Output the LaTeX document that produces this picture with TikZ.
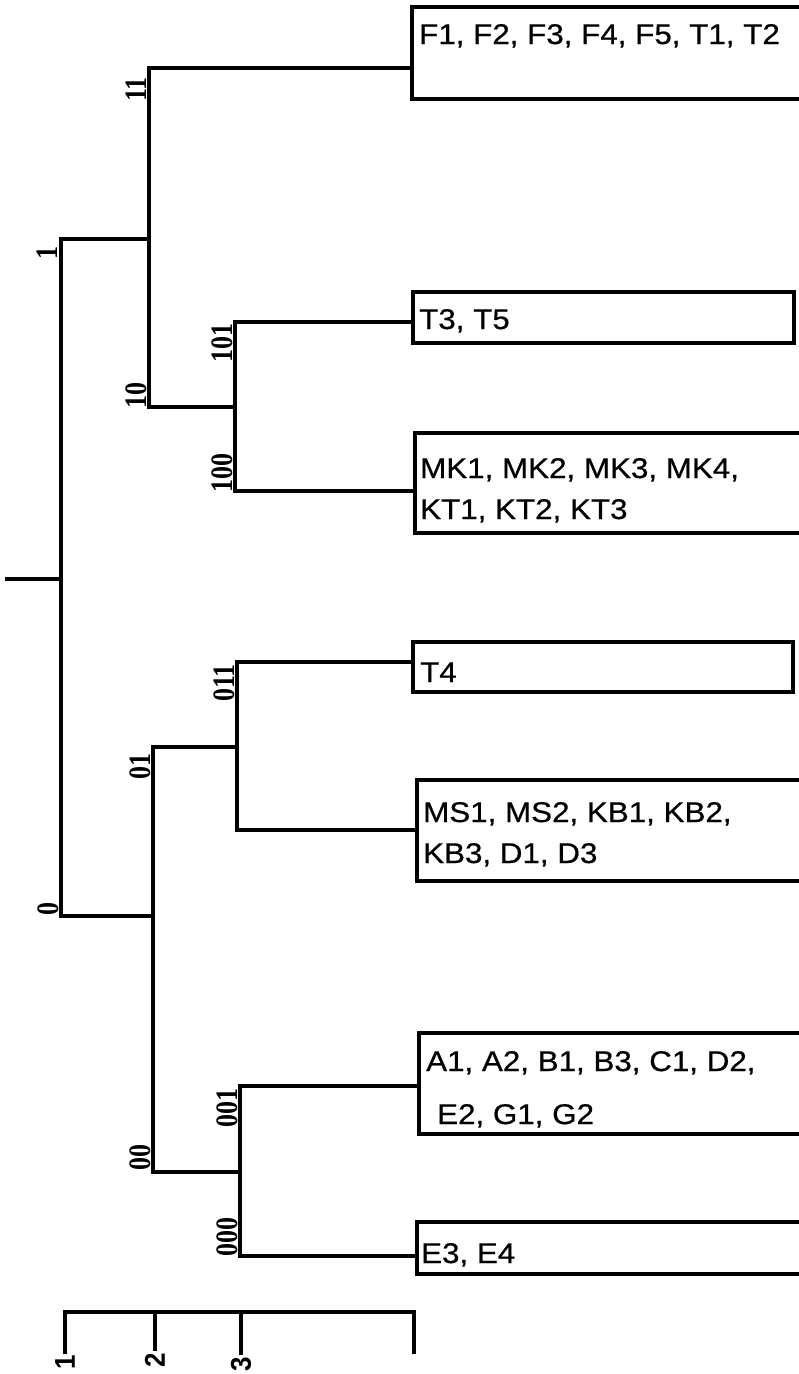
\documentclass[tikz,border=0pt]{standalone}
\usepackage{fontspec}
\usepackage{graphicx}
\setmainfont{Liberation Sans}
\newfontfamily\boxfont[FakeStretch=1.1,FakeBold=0.6]{Liberation Sans}
\newfontfamily\codefont{Liberation Serif}
\newcommand{\tallcode}[1]{\scalebox{1}[1.2]{#1}}
\tikzset{
  ln/.style={line width=3.2pt, line cap=rect},
  conn/.style={line width=3.2pt, line cap=rect, shorten >=4pt},
  grp/.style={draw, line width=3.2pt, rectangle, anchor=north west, inner sep=0pt, outer sep=0pt},
  grptxt/.style={anchor=base west, inner sep=0pt, font=\boxfont\fontsize{28.5}{30}\selectfont},
  code/.style={rotate=90, inner sep=0pt, font=\codefont\bfseries\fontsize{26}{30}\selectfont},
  scl/.style={rotate=90, inner sep=0pt, anchor=east, font=\bfseries\fontsize{26}{30}\selectfont},
}
\begin{document}
\begin{tikzpicture}[x=1pt,y=-1pt]
\useasboundingbox (0,0) rectangle (799,1374);
\clip (0,0) rectangle (799,1374);

% group boxes
\node[grp, minimum width=400pt, minimum height=92pt]  (b1) at (412,7) {};
\node[grp, minimum width=381pt, minimum height=51pt]  (b2) at (413,292) {};
\node[grp, minimum width=400pt, minimum height=100pt] (b3) at (415,433) {};
\node[grp, minimum width=380pt, minimum height=50pt]  (b4) at (413,642) {};
\node[grp, minimum width=400pt, minimum height=101pt] (b5) at (417,780) {};
\node[grp, minimum width=400pt, minimum height=101pt] (b6) at (419,1033) {};
\node[grp, minimum width=400pt, minimum height=52pt]  (b7) at (417,1222) {};

% box texts
\node[grptxt] (t1)  at (419,44)   {F1, F2, F3, F4, F5, T1, T2};
\node[grptxt] (t2)  at (419,329)  {T3, T5};
\node[grptxt] (t3a) at (420,478)  {MK1, MK2, MK3, MK4,};
\node[grptxt] (t3b) at (420,519)  {KT1, KT2, KT3};
\node[grptxt] (t4)  at (420,682)  {T4};
\node[grptxt] (t5a) at (423,822)  {MS1, MS2, KB1, KB2,};
\node[grptxt] (t5b) at (423,863)  {KB3, D1, D3};
\node[grptxt] (t6a) at (426,1071) {A1, A2, B1, B3, C1, D2,};
\node[grptxt] (t6b) at (437,1124) {E2, G1, G2};
\node[grptxt] (t7)  at (421,1263) {E3, E4};

% junctions
\coordinate (root) at (7,579);
\coordinate (n)    at (61,579);
\coordinate (n1)   at (61,239);
\coordinate (n0)   at (61,916);
\coordinate (n1b)  at (149,239);
\coordinate (n11)  at (149,68);
\coordinate (n10)  at (149,407);
\coordinate (n10b) at (235,407);
\coordinate (n101) at (235,322);
\coordinate (n100) at (235,491);
\coordinate (n0b)  at (153,916);
\coordinate (n01)  at (153,747);
\coordinate (n00)  at (153,1172);
\coordinate (n01b) at (237,747);
\coordinate (n011) at (237,662);
\coordinate (n010) at (237,830);
\coordinate (n00b) at (240,1172);
\coordinate (n001) at (240,1086);
\coordinate (n000) at (240,1256);

% tree
\draw[ln] (root) -- (n);
\draw[ln] (n1) -- (n0);
\draw[ln] (n1) -- (n1b);
\draw[ln] (n11) -- (n10);
\draw[ln] (n10) -- (n10b);
\draw[ln] (n101) -- (n100);
\draw[ln] (n0) -- (n0b);
\draw[ln] (n01) -- (n00);
\draw[ln] (n01) -- (n01b);
\draw[ln] (n011) -- (n010);
\draw[ln] (n00) -- (n00b);
\draw[ln] (n001) -- (n000);

% connectors to boxes
\draw[conn] (n11)  -- (n11 -| b1.west);
\draw[conn] (n101) -- (n101 -| b2.west);
\draw[conn] (n100) -- (n100 -| b3.west);
\draw[conn] (n011) -- (n011 -| b4.west);
\draw[conn] (n010) -- (n010 -| b5.west);
\draw[conn] (n001) -- (n001 -| b6.west);
\draw[conn] (n000) -- (n000 -| b7.west);

% code labels
\node[code, anchor=base east] (l11)  at (146,77)   {\tallcode{11}};
\node[code, anchor=base east] (l1)   at (57,246)   {\tallcode{1}};
\node[code, anchor=base west] (l10)  at (146,409)  {\tallcode{10}};
\node[code, anchor=base east] (l101) at (232,323)  {\tallcode{101}};
\node[code, anchor=base west] (l100) at (232,493)  {\tallcode{100}};
\node[code, anchor=base west] (l0)   at (58,916)   {\tallcode{0}};
\node[code, anchor=base east] (l01)  at (150,753)  {\tallcode{01}};
\node[code, anchor=base east] (l011) at (234,664)  {\tallcode{011}};
\node[code, anchor=base west] (l00)  at (150,1171) {\tallcode{00}};
\node[code, anchor=base east] (l001) at (237,1088) {\tallcode{001}};
\node[code, anchor=base west] (l000) at (237,1257) {\tallcode{000}};

% scale
\coordinate (s1) at (65,1312);
\coordinate (s2) at (155,1312);
\coordinate (s3) at (241,1312);
\coordinate (s4) at (414,1312);
\coordinate (s1e) at (65,1352);
\coordinate (s2e) at (155,1349);
\coordinate (s3e) at (241,1353);
\coordinate (s4e) at (414,1352);
\draw[ln] (s1) -- (s4);
\draw[ln] (s1) -- (s1e);
\draw[ln] (s2) -- (s2e);
\draw[ln] (s3) -- (s3e);
\draw[ln] (s4) -- (s4e);
\node[scl] (sl1) at ([yshift=-3pt]s1e) {\scalebox{1}[1.1]{1}};
\node[scl] (sl2) at ([yshift=-4pt]s2e) {\scalebox{1}[1.1]{2}};
\node[scl] (sl3) at ([yshift=-4pt]s3e) {\scalebox{1}[1.1]{3}};
\end{tikzpicture}
\end{document}
